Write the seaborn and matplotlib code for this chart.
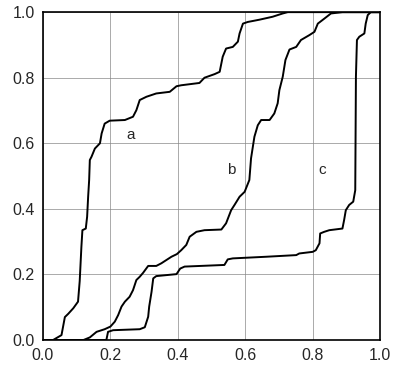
# Cumulative curves a, b, c.
import numpy as np
import pandas as pd
import matplotlib
matplotlib.use("Agg")
import matplotlib.pyplot as plt
import seaborn as sns

a_x = [0.0, 0.03, 0.055, 0.065, 0.075, 0.09, 0.104, 0.109, 0.114, 0.117,
       0.127, 0.131, 0.134, 0.137, 0.139, 0.144, 0.154, 0.169, 0.174, 0.183,
       0.198, 0.243, 0.267, 0.277, 0.287, 0.307, 0.336, 0.376, 0.396, 0.41,
       0.464, 0.479, 0.509, 0.524, 0.533, 0.543, 0.563, 0.578, 0.583, 0.593,
       0.607, 0.642, 0.681, 0.711, 0.726, 1.0]
a_y = [0.0, 0.0, 0.015, 0.07, 0.08, 0.097, 0.117, 0.18, 0.284, 0.335,
       0.34, 0.376, 0.437, 0.488, 0.549, 0.559, 0.584, 0.6, 0.63, 0.66,
       0.669, 0.671, 0.681, 0.701, 0.732, 0.742, 0.752, 0.757, 0.774, 0.777,
       0.784, 0.8, 0.811, 0.818, 0.864, 0.889, 0.894, 0.91, 0.935, 0.965,
       0.97, 0.977, 0.986, 0.996, 1.0, 1.0]

b_x = [0.0, 0.12, 0.139, 0.159, 0.183, 0.2, 0.213, 0.223, 0.233, 0.243,
       0.257, 0.267, 0.277, 0.287, 0.297, 0.312, 0.336, 0.351, 0.366, 0.381,
       0.397, 0.41, 0.425, 0.435, 0.455, 0.479, 0.529, 0.543, 0.558, 0.568,
       0.583, 0.598, 0.612, 0.617, 0.627, 0.637, 0.647, 0.672, 0.686, 0.696,
       0.701, 0.711, 0.719, 0.731, 0.751, 0.765, 0.79, 0.805, 0.815, 0.834,
       0.854, 0.888, 1.0]
b_y = [0.0, 0.0, 0.008, 0.025, 0.033, 0.041, 0.056, 0.076, 0.102, 0.117,
       0.132, 0.152, 0.183, 0.193, 0.205, 0.226, 0.226, 0.234, 0.244, 0.254,
       0.262, 0.274, 0.29, 0.315, 0.33, 0.335, 0.337, 0.356, 0.396, 0.412,
       0.437, 0.452, 0.488, 0.554, 0.62, 0.655, 0.671, 0.671, 0.691, 0.722,
       0.762, 0.803, 0.854, 0.886, 0.894, 0.915, 0.93, 0.94, 0.965, 0.98,
       0.996, 1.0, 1.0]

c_x = [0.0, 0.188, 0.193, 0.208, 0.287, 0.302, 0.312, 0.315, 0.322, 0.327,
       0.336, 0.396, 0.407, 0.42, 0.538, 0.548, 0.563, 0.662, 0.751, 0.76,
       0.8, 0.809, 0.82, 0.822, 0.834, 0.849, 0.888, 0.893, 0.898, 0.908,
       0.92, 0.926, 0.928, 0.931, 0.938, 0.953, 0.957, 0.963, 0.972, 1.0]
c_y = [0.0, 0.0, 0.025, 0.03, 0.033, 0.039, 0.071, 0.102, 0.147, 0.188,
       0.195, 0.201, 0.218, 0.224, 0.229, 0.246, 0.249, 0.254, 0.259, 0.264,
       0.269, 0.274, 0.295, 0.325, 0.33, 0.335, 0.34, 0.366, 0.396, 0.412,
       0.422, 0.457, 0.803, 0.915, 0.925, 0.935, 0.965, 0.991, 1.0, 1.0]

curve_names = ["a", "b", "c"]
label_pos = {"a": (0.26, 0.625), "b": (0.558, 0.518), "c": (0.829, 0.518)}
ticks = [0.0, 0.2, 0.4, 0.6, 0.8, 1.0]

df = pd.concat([
    pd.DataFrame({"x": xs, "y": ys, "curve": name})
    for name, xs, ys in zip(curve_names, [a_x, b_x, c_x], [a_y, b_y, c_y])
], ignore_index=True)

sns.set_style("white")
plt.rcParams["font.family"] = ["Liberation Sans", "DejaVu Sans"]

fig = plt.figure(figsize=(3.94, 3.68), dpi=100)
ax = fig.add_axes([0.109, 0.076, 0.856, 0.891])

sns.lineplot(data=df, x="x", y="y", hue="curve", units="curve",
             estimator=None, sort=False, palette=["black"] * 3,
             linewidth=1.4, legend=False, ax=ax)

for name, (tx, ty) in label_pos.items():
    ax.text(tx, ty, name, fontsize=11, ha="center", va="center")

ax.set_xlim(0, 1)
ax.set_ylim(0, 1)
ax.set_xticks(ticks)
ax.set_yticks(ticks)
ax.set_xticklabels([f"{t:.1f}" for t in ticks], fontsize=11.5)
ax.set_yticklabels([f"{t:.1f}" for t in ticks], fontsize=11.5)
ax.tick_params(length=0, pad=6)
ax.set_xlabel("")
ax.set_ylabel("")
ax.grid(True, color="#888888", linewidth=0.5)
for s in ax.spines.values():
    s.set_color("black")
    s.set_linewidth(1.2)

plt.savefig("out.png", dpi=100)
plt.close()
